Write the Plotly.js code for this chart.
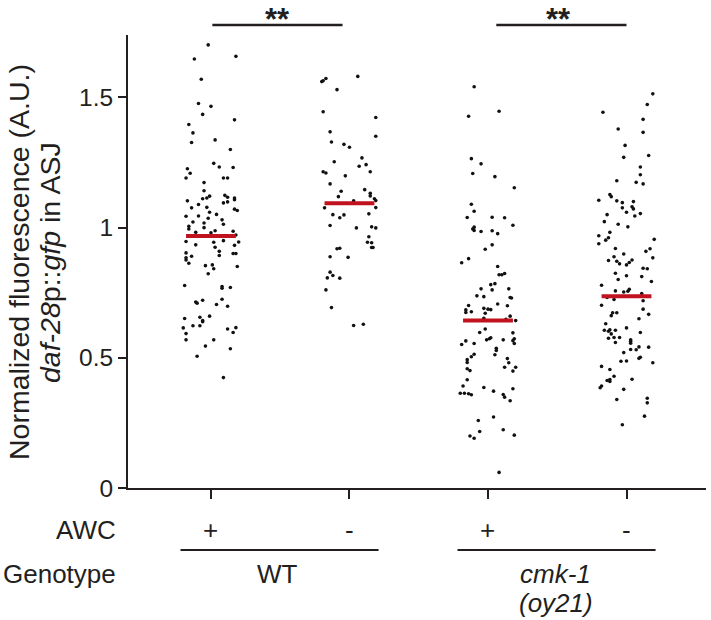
<!DOCTYPE html>
<html>
<head>
<meta charset="utf-8">
<script src="https://cdn.plot.ly/plotly-3.0.1.min.js"></script>
<style>html,body{margin:0;padding:0;background:#fff;}#chart{width:711px;height:620px;}</style>
</head>
<body>
<div id="chart"></div>
<script>
// ---- data ----
const awcLabels = ['+', '-', '+', '-'];
const genotypeLabels = ['WT', '<i>cmk-1</i>', '<i>(oy21)</i>'];
const yTitleLines = ['Normalized fluorescence (A.U.)', '<i>daf-28</i>p::<i>gfp</i> in ASJ'];
const yTickVals = [0, 0.5, 1, 1.5];
const yTickText = ['0', '0.5', '1', '1.5'];
const medians = [0.968, 1.094, 0.643, 0.737];
const significance = ['**', '**'];

// jitter offsets (category units) and values for each group
const jitter1 = [-0.02,-0.12,0.18,-0.07,-0.09,0.00,-0.06,0.17,-0.16,-0.13,-0.14,0.03,0.14,0.02,0.06,-0.17,0.16,-0.15,-0.18,0.09,0.12,-0.05,-0.05,0.10,0.12,-0.17,-0.06,-0.03,-0.01,0.17,0.17,0.09,0.12,-0.09,-0.14,-0.03,0.17,0.19,-0.01,0.04,-0.18,-0.09,-0.02,0.08,-0.13,-0.05,0.09,-0.16,-0.16,-0.05,-0.11,0.03,0.16,0.00,0.18,-0.18,-0.11,0.02,0.09,0.17,0.20,0.03,0.06,-0.18,-0.14,0.06,0.16,0.18,-0.18,-0.18,-0.16,-0.04,0.01,0.02,0.19,-0.02,-0.19,0.08,0.08,0.14,-0.11,-0.10,-0.06,0.08,0.04,0.12,-0.01,-0.19,-0.08,-0.06,-0.06,-0.13,-0.08,-0.20,0.12,0.18,-0.18,0.16,-0.18,0.02,-0.04,0.14,-0.10,0.09];
const values1 = [1.702,1.648,1.658,1.570,1.477,1.466,1.435,1.414,1.396,1.364,1.327,1.337,1.300,1.247,1.233,1.226,1.231,1.209,1.191,1.191,1.191,1.173,1.142,1.124,1.117,1.103,1.111,1.114,1.121,1.114,1.107,1.095,1.099,1.089,1.076,1.078,1.071,1.066,1.059,1.051,1.044,1.045,1.036,1.030,1.022,1.018,1.013,1.005,0.995,1.000,0.982,0.988,0.986,0.980,0.972,0.947,0.934,0.944,0.950,0.932,0.945,0.925,0.909,0.903,0.890,0.893,0.901,0.901,0.884,0.876,0.863,0.854,0.857,0.842,0.851,0.823,0.778,0.774,0.767,0.770,0.714,0.710,0.721,0.725,0.705,0.698,0.660,0.651,0.656,0.639,0.643,0.623,0.623,0.615,0.611,0.616,0.593,0.597,0.569,0.569,0.545,0.535,0.506,0.424];

const jitter2 = [0.06,-0.17,-0.19,-0.20,-0.09,-0.19,0.19,-0.14,0.19,-0.13,-0.04,0.00,0.09,-0.11,0.07,0.12,-0.19,-0.17,0.15,-0.03,-0.14,0.11,-0.06,0.15,0.15,-0.08,0.18,0.19,0.03,-0.18,0.19,-0.12,0.14,-0.04,-0.07,-0.14,0.05,0.16,0.19,0.14,0.13,0.16,0.16,0.17,-0.09,-0.07,-0.14,-0.01,-0.14,-0.12,-0.16,-0.07,-0.17,-0.13,0.10,0.03];
const values2 = [1.581,1.573,1.564,1.561,1.530,1.445,1.423,1.368,1.351,1.329,1.320,1.309,1.268,1.253,1.236,1.242,1.215,1.210,1.215,1.199,1.168,1.146,1.140,1.132,1.122,1.119,1.111,1.104,1.103,1.076,1.077,1.050,1.053,1.049,1.038,1.008,0.999,1.003,0.999,0.965,0.944,0.942,0.924,0.924,0.919,0.921,0.888,0.886,0.829,0.816,0.807,0.806,0.761,0.693,0.629,0.624];

const jitter3 = [-0.10,0.08,-0.14,-0.12,-0.05,-0.11,0.05,0.19,-0.12,-0.10,-0.15,0.03,0.12,0.18,-0.10,-0.11,-0.10,-0.05,0.03,0.07,0.03,-0.02,-0.14,-0.19,0.07,0.08,0.10,0.12,0.02,0.05,-0.05,0.15,0.03,-0.08,-0.03,0.16,0.17,0.07,0.14,-0.14,-0.16,-0.16,-0.12,-0.03,0.00,0.02,-0.02,0.16,-0.03,0.13,0.20,-0.02,-0.06,0.18,0.02,0.01,-0.01,0.19,-0.16,0.11,0.18,0.19,-0.19,-0.10,0.06,0.06,-0.10,-0.12,0.05,0.14,-0.15,-0.15,0.15,0.20,0.12,-0.15,-0.13,0.18,-0.15,-0.18,-0.03,0.18,0.04,-0.20,-0.17,-0.14,-0.12,0.11,0.12,0.16,0.04,-0.07,0.11,-0.06,-0.13,-0.10,0.19,0.08];
const values3 = [1.541,1.447,1.428,1.265,1.245,1.208,1.196,1.153,1.090,1.063,1.039,1.040,1.038,1.009,1.002,0.995,0.989,0.985,0.988,0.977,0.934,0.917,0.881,0.865,0.851,0.819,0.819,0.824,0.781,0.785,0.765,0.765,0.761,0.738,0.735,0.732,0.730,0.707,0.700,0.701,0.684,0.674,0.677,0.690,0.687,0.685,0.671,0.660,0.652,0.648,0.643,0.611,0.597,0.596,0.577,0.573,0.569,0.573,0.565,0.569,0.566,0.555,0.551,0.555,0.537,0.528,0.514,0.504,0.512,0.497,0.493,0.482,0.481,0.464,0.464,0.458,0.451,0.449,0.416,0.392,0.386,0.381,0.372,0.364,0.364,0.362,0.358,0.359,0.349,0.335,0.273,0.259,0.224,0.217,0.200,0.191,0.203,0.060];

const jitter4 = [0.19,0.15,-0.17,0.12,-0.06,0.12,-0.01,0.16,-0.02,0.10,0.10,-0.07,0.07,0.12,-0.12,-0.11,-0.20,-0.07,-0.03,0.05,0.04,0.05,-0.03,0.00,-0.14,0.06,0.10,-0.16,-0.06,0.01,-0.12,-0.20,-0.13,-0.15,0.20,-0.20,-0.08,0.17,0.14,-0.02,-0.09,0.19,-0.13,0.04,-0.07,0.02,-0.05,0.00,0.12,0.15,-0.08,0.00,0.11,-0.06,0.18,-0.18,0.02,0.01,-0.02,-0.08,0.11,-0.14,-0.09,0.12,-0.18,0.12,-0.10,-0.07,-0.11,0.16,0.09,-0.15,0.00,-0.16,-0.13,-0.12,-0.08,0.10,-0.11,-0.13,-0.09,-0.05,-0.08,0.03,0.03,0.03,0.09,0.16,0.03,0.07,-0.02,0.10,0.09,-0.04,0.00,0.19,-0.18,-0.12,-0.09,0.04,-0.14,-0.12,-0.12,-0.18,-0.19,-0.02,0.15,-0.07,0.15,0.13,-0.03];
const values4 = [1.514,1.473,1.443,1.416,1.379,1.366,1.316,1.277,1.270,1.233,1.203,1.180,1.174,1.168,1.127,1.119,1.105,1.103,1.096,1.100,1.080,1.072,1.076,1.059,1.050,1.045,1.054,1.023,1.013,1.003,0.982,0.969,0.961,0.952,0.955,0.938,0.920,0.919,0.909,0.899,0.888,0.884,0.874,0.876,0.871,0.866,0.861,0.857,0.844,0.842,0.825,0.815,0.812,0.801,0.793,0.779,0.763,0.756,0.753,0.757,0.747,0.732,0.724,0.719,0.702,0.687,0.673,0.673,0.662,0.667,0.650,0.631,0.615,0.606,0.602,0.608,0.606,0.597,0.592,0.575,0.578,0.578,0.559,0.569,0.564,0.556,0.542,0.541,0.532,0.531,0.520,0.502,0.498,0.487,0.488,0.481,0.467,0.455,0.429,0.418,0.413,0.417,0.409,0.392,0.385,0.379,0.345,0.340,0.327,0.276,0.243];

// ---- chart ----
const W = 711, H = 620;
const M = {l: 128, r: 5, t: 35, b: 132};
const plotW = W - M.l - M.r, plotH = H - M.t - M.b;
const xRange = [-0.599, 3.574];
const yRange = [0, 1.74];
const FONT = 'Liberation Sans, Arial, Helvetica, sans-serif';
const INK = '#231f20';
const RED = '#c1121f';
const LABEL = 26;

const px = p => (p - M.l) / plotW;               // pixel -> paper x
const py = p => (M.t + plotH - p) / plotH;       // pixel -> paper y
const xu = u => (u - xRange[0]) / (xRange[1] - xRange[0]); // category unit -> paper x

const jitters = [jitter1, jitter2, jitter3, jitter4];
const values = [values1, values2, values3, values4];

const traces = [];
values.forEach((vals, g) => {
  traces.push({
    type: 'scatter', mode: 'markers',
    x: jitters[g].map(o => g + o), y: vals,
    marker: {size: 3.6, color: '#111'},
    hoverinfo: 'skip', showlegend: false, cliponaxis: false
  });
});
medians.forEach((m, g) => {
  traces.push({
    type: 'scatter', mode: 'lines',
    x: [g - 0.18, g + 0.18], y: [m, m],
    line: {color: RED, width: 4},
    hoverinfo: 'skip', showlegend: false
  });
});

const annotations = [];
const txt = (o) => Object.assign({showarrow: false, font: {family: FONT, size: LABEL, color: INK}}, o);
// y title (two lines)
annotations.push(txt({xref: 'paper', yref: 'paper', x: px(19), y: py(262), textangle: -90,
  xanchor: 'center', yanchor: 'middle', text: yTitleLines[0], font: {family: FONT, size: 28.5, color: INK}}));
annotations.push(txt({xref: 'paper', yref: 'paper', x: px(50), y: py(262), textangle: -90,
  xanchor: 'center', yanchor: 'middle', text: yTitleLines[1], font: {family: FONT, size: 28.5, color: INK}}));
// AWC row
annotations.push(txt({xref: 'paper', yref: 'paper', x: px(118), y: py(530), xanchor: 'right', yanchor: 'middle', text: 'AWC'}));
awcLabels.forEach((t, g) => annotations.push(txt({
  xref: 'x', yref: 'paper', x: g, y: py(530), xanchor: 'center', yanchor: 'middle', text: t})));
// Genotype row
annotations.push(txt({xref: 'paper', yref: 'paper', x: px(118), y: py(574), xanchor: 'right', yanchor: 'middle', text: 'Genotype'}));
annotations.push(txt({xref: 'x', yref: 'paper', x: 0.48, y: py(574), xanchor: 'center', yanchor: 'middle', text: genotypeLabels[0]}));
annotations.push(txt({xref: 'x', yref: 'paper', x: 2.49, y: py(574), xanchor: 'center', yanchor: 'middle', text: genotypeLabels[1]}));
annotations.push(txt({xref: 'x', yref: 'paper', x: 2.49, y: py(603), xanchor: 'center', yanchor: 'middle', text: genotypeLabels[2]}));
// significance stars
annotations.push(txt({xref: 'x', yref: 'paper', x: 0.48, y: py(0), xanchor: 'center', yanchor: 'top',
  text: '<b>' + significance[0] + '</b>', font: {family: FONT, size: 31, color: INK}}));
annotations.push(txt({xref: 'x', yref: 'paper', x: 2.51, y: py(0), xanchor: 'center', yanchor: 'top',
  text: '<b>' + significance[1] + '</b>', font: {family: FONT, size: 31, color: INK}}));

const lineStyle = {color: INK, width: 2};
const shapes = [
  // significance bars
  {type: 'line', xref: 'paper', yref: 'paper', x0: xu(0.01), x1: xu(0.95), y0: py(25), y1: py(25), line: {color: INK, width: 2.5}},
  {type: 'line', xref: 'paper', yref: 'paper', x0: xu(2.06), x1: xu(3.0), y0: py(25), y1: py(25), line: {color: INK, width: 2.5}},
  // genotype underlines
  {type: 'line', xref: 'paper', yref: 'paper', x0: xu(-0.22), x1: xu(1.21), y0: py(550), y1: py(550), line: lineStyle},
  {type: 'line', xref: 'paper', yref: 'paper', x0: xu(1.78), x1: xu(3.21), y0: py(550), y1: py(550), line: lineStyle}
];

const layout = {
  width: W, height: H,
  margin: M,
  paper_bgcolor: '#fff', plot_bgcolor: '#fff',
  font: {family: FONT, color: INK},
  showlegend: false,
  xaxis: {
    range: xRange, showgrid: false, zeroline: false,
    showline: true, linecolor: INK, linewidth: 2,
    ticks: 'outside', ticklen: 9, tickwidth: 2, tickcolor: INK,
    tickvals: [0, 1, 2, 3], showticklabels: false, fixedrange: true
  },
  yaxis: {
    range: yRange, showgrid: false, zeroline: false,
    showline: true, linecolor: INK, linewidth: 2,
    ticks: 'outside', ticklen: 8, tickwidth: 2, tickcolor: INK,
    tickvals: yTickVals, ticktext: yTickText,
    tickfont: {family: FONT, size: 24.5, color: INK}, fixedrange: true
  },
  annotations: annotations,
  shapes: shapes
};

Plotly.newPlot('chart', traces, layout, {staticPlot: true, displayModeBar: false});
</script>
</body>
</html>
